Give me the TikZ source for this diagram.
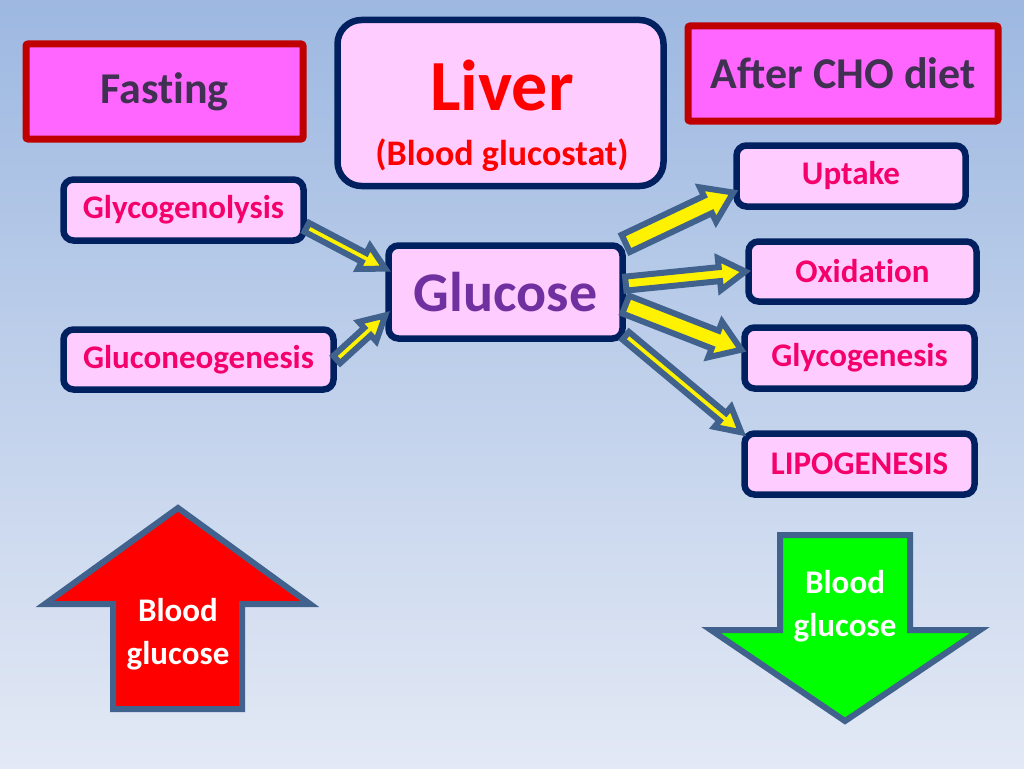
\documentclass[tikz,border=0pt]{standalone}
\usepackage{fontspec}
\setmainfont{Carlito}[Ligatures=NoCommon]
\usepackage{tikz}
\usetikzlibrary{calc,arrows.meta,shapes}

\definecolor{navy}{HTML}{002060}
\definecolor{darkred}{HTML}{C00000}
\definecolor{boxpink}{HTML}{FFCCFF}
\definecolor{headpink}{HTML}{FF66FF}
\definecolor{procred}{HTML}{F5006A}
\definecolor{glupurple}{HTML}{7030A0}
\definecolor{headtext}{HTML}{403152}
\definecolor{arrowblue}{HTML}{41628C}
\definecolor{bgtop}{HTML}{9DB8E1}
\definecolor{bgbottom}{HTML}{E3E9F5}

% from, to, shaft half width, head half width, head length
\newcommand{\fatarrow}[5]{%
\path (#1) coordinate (fa-s) (#2) coordinate (fa-e) ($(fa-e)!#5!(fa-s)$) coordinate (fa-h);
\draw[flow] ($(fa-s)!#3!90:(fa-e)$) -- ($(fa-h)!#3!90:(fa-e)$) -- ($(fa-h)!#4!90:(fa-e)$) -- (fa-e)
 -- ($(fa-h)!#4!-90:(fa-e)$) -- ($(fa-h)!#3!-90:(fa-e)$) -- ($(fa-s)!#3!-90:(fa-e)$) -- cycle;}

\begin{document}
\begin{tikzpicture}[x=1pt,y=-1pt,
 hdr/.style={draw=darkred,fill=headpink,line width=7pt,rounded corners=2pt,text=headtext,
  font=\fontsize{44}{48}\selectfont\bfseries,inner sep=0pt},
 proc/.style={draw=navy,fill=boxpink,line width=6.5pt,rounded corners=10pt,text=procred,
  font=\fontsize{33}{38}\selectfont\bfseries,inner sep=0pt},
 flow/.style={draw=arrowblue,fill=yellow,line width=6pt,line join=miter},
 bigarrow/.style={draw=arrowblue,line width=6pt,line join=miter},
 bigtext/.style={text=white,align=center,font=\fontsize{33}{43}\selectfont\bfseries}]
\useasboundingbox (0,0) rectangle (1024,768);
\shade[top color=bgtop,bottom color=bgbottom] (0,0) rectangle (1024,768);

\node[hdr,minimum width=277pt,minimum height=95pt] (fast) at (164.5,91.5) {Fasting};
\node[hdr,minimum width=310pt,minimum height=95pt] (after) at (843,73.5) {After CHO diet};

\node[proc,rounded corners=24pt,minimum width=326pt,minimum height=166pt] (liver) at (500.5,103) {};
\node[text=red,font=\fontsize{72}{72}\selectfont\bfseries] (livtitle) at (502,86) {Liver};
\node[text=red,font=\fontsize{36}{40}\selectfont\bfseries] (livsub) at (502,155) {(Blood glucostat)};

\node[proc,minimum width=240pt,minimum height=61pt] (glyco) at (183.5,210) {Glycogenolysis};
\node[proc,minimum width=270pt,minimum height=60pt] (gneo) at (198.5,359.5) {Gluconeogenesis};
\node[proc,text=glupurple,font=\fontsize{56}{60}\selectfont\bfseries,minimum width=234pt,minimum height=93pt] (glu) at (505.5,292) {Glucose};

\node[proc,minimum width=229pt,minimum height=61pt] (upt) at (851,176) {Uptake};
\node[proc,minimum width=228pt,minimum height=60pt] (oxi) at (862.5,271.5) {Oxidation};
\node[proc,minimum width=230pt,minimum height=61pt] (glyg) at (859.5,358) {Glycogenesis};
\node[proc,minimum width=230pt,minimum height=61pt] (lipo) at (859.5,464) {LIPOGENESIS};

\fatarrow{glyco.-8}{glu.169}{5pt}{13pt}{24pt}
\fatarrow{gneo.east}{glu.191}{5pt}{13pt}{24pt}
\fatarrow{glu.22}{upt.188}{9.5pt}{19pt}{28pt}
\fatarrow{glu.4}{oxi.west}{7pt}{16pt}{26pt}
\fatarrow{glu.-6}{glyg.176}{9.5pt}{19pt}{28pt}
\fatarrow{glu.-20}{lipo.165}{5pt}{13pt}{24pt}

\draw[bigarrow,fill=red] (178,508) -- (310,604) -- (242,604) -- (242,709) -- (113,709) -- (113,604) -- (45,604) -- cycle;
\node[bigtext] (uptext) at (178,634) {Blood\\glucose};
\draw[bigarrow,fill=green] (780,535) -- (910,535) -- (910,630) -- (980,630) -- (845,721) -- (711,630) -- (780,630) -- cycle;
\node[bigtext] (downtext) at (845,606) {Blood\\glucose};
\end{tikzpicture}
\end{document}
